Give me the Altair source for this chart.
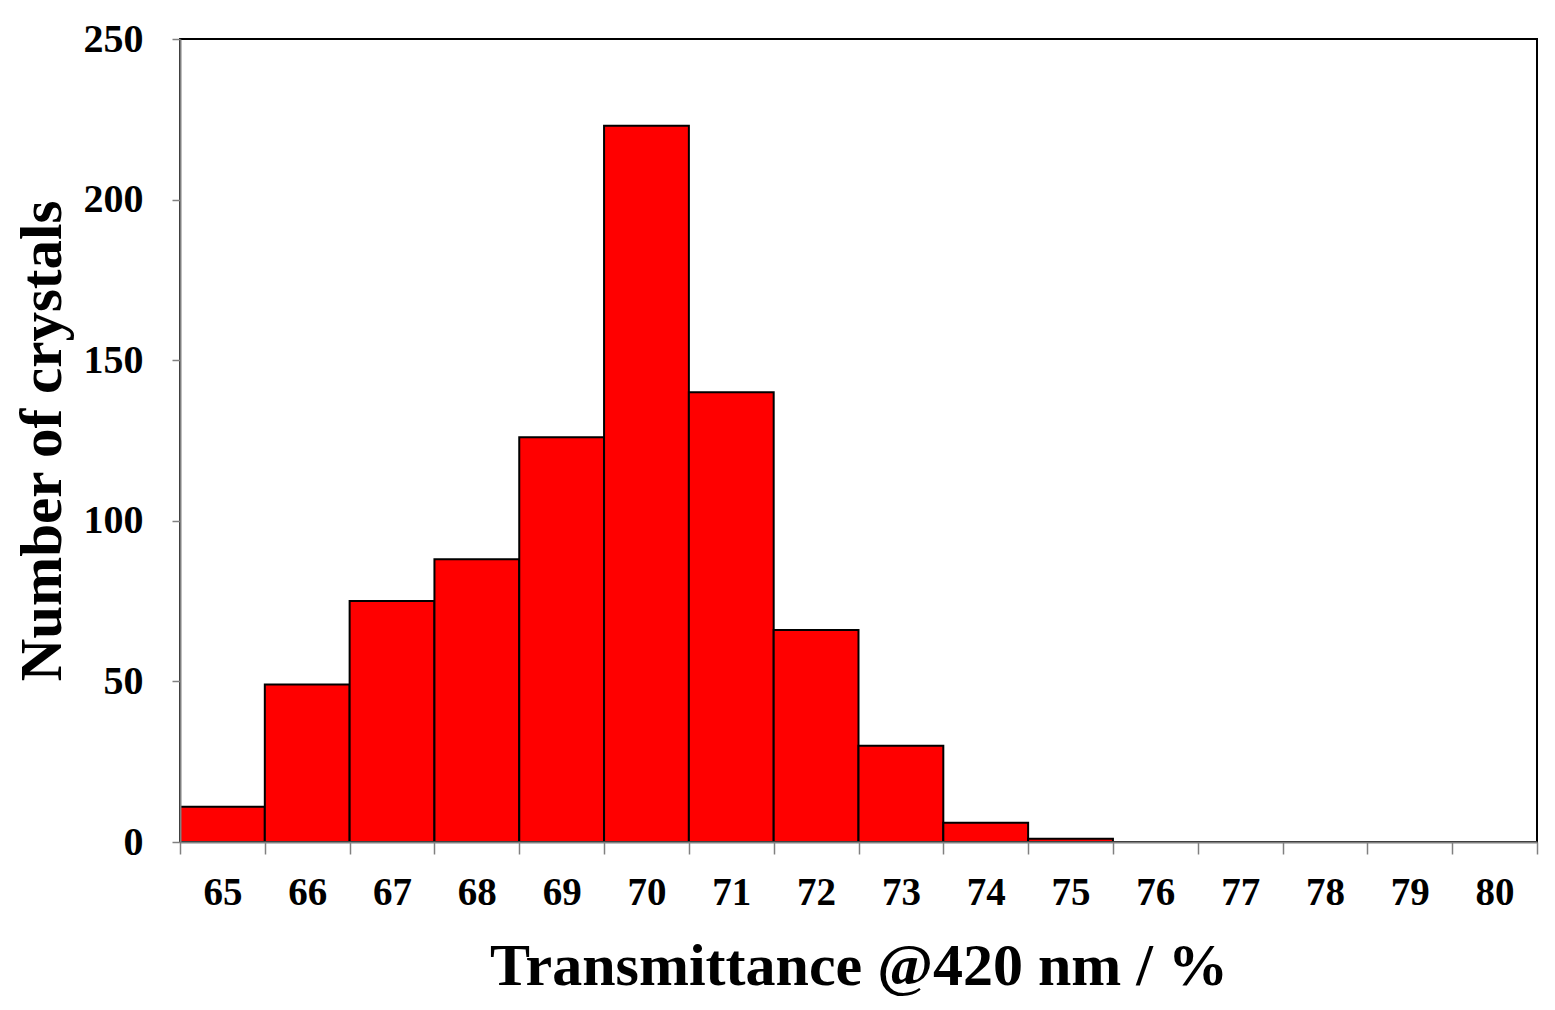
import altair as alt
import pandas as pd

bins = ["65", "66", "67", "68", "69", "70", "71", "72", "73", "74", "75", "76", "77", "78", "79", "80"]
counts = [11, 49, 75, 88, 126, 223, 140, 66, 30, 6, 1, 0, 0, 0, 0, 0]
y_ticks = [0, 50, 100, 150, 200, 250]

df = pd.DataFrame({"bin": bins, "count": counts})

FONT = "Liberation Serif"

bars = alt.Chart(df).transform_filter("datum.count > 0").mark_bar(
    color="#ff0000", stroke="#000000", strokeWidth=2
).encode(
    x=alt.X("bin:O", sort=bins,
            scale=alt.Scale(domain=bins, paddingInner=0, paddingOuter=0),
            axis=alt.Axis(title="Transmittance @420 nm / %", labelAngle=0,
                          tickBand="extent", tickSize=12, tickColor="#808080",
                          domainColor="#808080", domainWidth=2, tickWidth=1.5,
                          labelFont=FONT, labelFontSize=39, labelFontWeight="bold",
                          labelColor="#000000", labelPadding=19, zindex=1,
                          titleFont=FONT, titleFontSize=60, titleFontWeight="bold",
                          titleColor="#000000", titlePadding=25)),
    y=alt.Y("count:Q",
            scale=alt.Scale(domain=[0, 250], nice=False),
            axis=alt.Axis(title="Number of crystals", values=y_ticks, grid=False,
                          tickSize=8, tickColor="#808080", tickWidth=1.5,
                          domainColor="#808080", domainWidth=2, zindex=1,
                          labelFont=FONT, labelFontSize=40, labelFontWeight="bold",
                          labelColor="#000000", labelPadding=29,
                          titleFont=FONT, titleFontSize=59, titleFontWeight="bold",
                          titleColor="#000000", titlePadding=11)),
)

chart = bars.properties(
    width=1357, height=803,
    autosize=alt.AutoSizeParams(type="none"),
    padding={"left": 172, "top": 31, "right": 10, "bottom": 160},
).configure(
    background="white",
    view=alt.ViewConfig(stroke="#000000", strokeWidth=2),
)

chart.save("out.html", embed_options={"renderer": "svg", "actions": False})
